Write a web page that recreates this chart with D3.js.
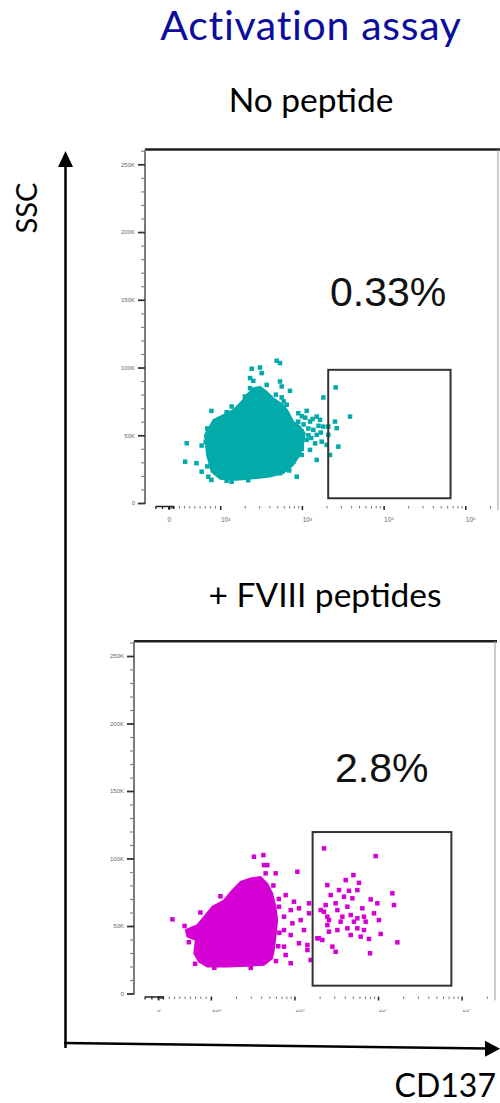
<!DOCTYPE html>
<html>
<head>
<meta charset="utf-8">
<script src="https://cdn.jsdelivr.net/npm/d3@7"></script>
<style>
  body { margin: 0; background: #fff; }
  svg { display: block; }
</style>
</head>
<body>
<div id="chart-area"></div>
<script>
/*
*    Activation assay - CD137 vs SSC dot plots
*/

// ---------- data: [CD137 intensity, SSC (K)] ----------
// outline of the dense part of each population
var noPepCloud = [[70,50.3],[87,61.4],[109,65.1],[145,68.8],[183,74.9],[211,79.9],[254,84.8],
  [307,86.0],[371,82.3],[447,77.4],[592,72.5],[682,67.5],[785,60.1],[948,56.4],[1091,51.5],
  [1040,42.9],[948,35.5],[785,28.1],[592,22.0],[407,19.4],[280,18.3],[159,17.0],[100,17.7],
  [83,23.1],[74,35.5]];
// single events around / outside the dense part
var noPepEvents = [[492,105.0],[540,103.3],[243,99.1],[307,100.0],[322,95.9],[232,92.2],[254,90.2],
  [540,89.7],[371,87.2],[566,86.0],[715,82.8],[232,84.8],[307,77.4],[201,78.6],[407,77.9],[566,77.9],
  [138,71.2],[83,68.0],[90,60.1],[652,72.5],[904,66.3],[1145,68.0],[1518,63.8],[1667,61.4],
  [1257,60.1],[1829,56.4],[1380,54.0],[995,52.7],[1518,50.3],[1145,46.6],[1747,45.3],[995,42.9],
  [1257,39.2],[995,35.5],[1518,31.8],[865,19.4],[652,25.7],[785,30.5],[35,44.1],[64,42.4],
  [32,30.5],[54,29.4],[64,23.1],[77,19.4],[83,17.0],[138,15.7],[407,22.0],[540,22.0],
  [1829,77.9],[2594,85.3],[3882,63.8],[2541,60.1],[2667,55.2],[2105,56.4],[2013,42.9],
  [2793,41.6],[2207,35.5],[2105,50.3],[1050,58],[1200,55],[1350,62],[1100,63],[1300,48],
  [1600,57],[1450,44],[1700,52],[1200,50],[900,60],[1000,64],[600,75],[480,80],[190,73],
  [120,67],[75,55],[72,45],[75,27],[120,16.5],[220,16.8],[700,24],[1000,40],[850,58]];
var noPepGate = [2100, 66000, 3.5, 98.3];   // x0, x1, y0, y1

var fviiiCloud = [[52,47.0],[74,50.7],[87,56.9],[104,64.3],[144,69.2],[181,76.6],[227,82.8],
  [299,85.3],[394,86.5],[474,81.6],[544,74.2],[596,64.3],[625,54.4],[596,42.1],[569,32.2],
  [544,26.1],[432,21.1],[273,20.4],[157,19.8],[93,19.8],[77,23.5],[68,29.8],[71,39.6],[55,42.1]];
var fviiiEvents = [[27,54.9],[328,101.3],[425,102.5],[432,95.1],[474,95.1],[596,89.0],[1084,90.2],
  [452,89.0],[2255,107.5],[9376,101.8],[785,72.9],[987,68.0],[653,64.3],[902,61.8],[1133,63.1],
  [1493,66.8],[1493,59.4],[750,56.9],[1189,54.4],[944,52.0],[750,47.0],[1300,47.0],[902,43.3],
  [1133,37.2],[1429,35.9],[750,34.7],[785,28.5],[902,22.4],[1563,24.8],[1429,32.2],[1879,40.9],
  [2158,39.6],[2061,61.8],[2477,80.3],[4105,84.0],[5076,87.7],[5919,82.0],[3413,76.6],[4496,76.1],
  [5660,76.6],[2716,72.9],[3917,71.7],[4937,70.5],[8170,69.7],[9822,66.8],[14860,74.2],
  [15520,65.5],[2363,65.5],[3112,66.8],[4302,64.3],[6496,63.1],[8954,59.4],[2255,60.6],
  [3265,61.8],[2477,56.9],[3747,56.9],[4713,58.1],[5660,55.7],[6793,56.9],[7117,53.2],
  [10260,54.4],[2588,54.4],[3573,53.2],[5152,53.2],[2477,50.7],[4302,48.3],[6793,47.0],
  [3265,47.0],[1968,40.9],[2588,45.8],[10770,44.1],[4713,43.3],[6199,42.1],[7798,40.4],
  [2844,34.7],[3112,30.9],[8017,29.8],[17050,37.9],[5660,48.3],[650,70],[560,80],[130,72],
  [80,60],[50,50],[58,38],[70,22],[110,19],[300,19],[600,24],[660,45],[640,35]];
var fviiiGate = [1650, 75500, 5.8, 119.6];

var sscTicks = [0, 50, 100, 150, 200, 250];
var sscLabels = ["0", "50K", "100K", "150K", "200K", "250K"];
var cdTicks = [0, 100, 1000, 10000, 100000];
var cdLabels = ["0", "10\u00B2", "10\u00B3", "10\u2074", "10\u2075"];

var svg = d3.select("#chart-area")
  .append("svg")
    .attr("width", 500)
    .attr("height", 1103);

// biexponential-like display transform: log above 100, linear below
function biex(v) {
  return v >= 100 ? Math.log10(v) : 2 + 0.63 * (v - 100) / 100;
}

// minor ticks for CD137 and SSC
var cdMinor = [];
[1, 10, 100, 1000, 10000].forEach(function(dec) {
  for (var k = 2; k <= 9; k++) cdMinor.push(k * dec);
});
cdMinor.push(200000);
var sscMinor = d3.range(10, 261, 10).filter(function(d) { return d % 50 !== 0; });

var defs = svg.append("defs");
var tickFont = "Liberation Sans, Arial, sans-serif";

function drawPanel(p) {
  var x = d3.scaleLinear().domain([1.08, 5.4]).range([p.left, p.right]);
  var y = d3.scaleLinear().domain([0, 250]).range([p.zero, p.zero - 250 * p.pxPerK]);
  var fx = function(v) { return x(biex(v)); };
  var top = y(261);

  var g = svg.append("g");

  // frame
  g.append("line")
    .attr("x1", p.left).attr("x2", p.frameRight)
    .attr("y1", top).attr("y2", top)
    .attr("stroke", "#1e1e1e").attr("stroke-width", 2.5);
  g.append("line")
    .attr("x1", p.right).attr("x2", p.right)
    .attr("y1", top).attr("y2", p.zero + 7)
    .attr("stroke", "#9a9a9a").attr("stroke-width", 1);

  // y axis
  g.append("line")
    .attr("x1", p.left).attr("x2", p.left)
    .attr("y1", top).attr("y2", p.zero + 1)
    .attr("stroke", "#7a7a7a").attr("stroke-width", 2);

  var yMinor = g.append("g")
    .attr("transform", "translate(" + p.left + ",0)")
    .call(d3.axisLeft(y).tickValues(sscMinor).tickSize(4).tickFormat(""));
  yMinor.select(".domain").remove();
  yMinor.selectAll("line").attr("stroke", "#888").attr("stroke-width", 1.2);

  var yMajor = g.append("g")
    .attr("transform", "translate(" + p.left + ",0)")
    .call(d3.axisLeft(y).tickValues(sscTicks).tickSize(7).tickFormat(""));
  yMajor.select(".domain").remove();
  yMajor.selectAll("line").attr("stroke", "#333").attr("stroke-width", 1.8);

  defs.append("clipPath").attr("id", "clipY" + p.id)
    .append("rect").attr("x", p.labelClip).attr("y", top - 20)
    .attr("width", 200).attr("height", 400);
  var yLab = g.append("g")
    .attr("clip-path", "url(#clipY" + p.id + ")")
    .append("g")
    .attr("transform", "translate(" + p.left + ",0)")
    .call(d3.axisLeft(y).tickValues(sscTicks).tickSize(0).tickPadding(10)
      .tickFormat(function(d, i) { return sscLabels[i]; }));
  yLab.select(".domain").remove();
  yLab.selectAll("text")
    .attr("font-family", tickFont)
    .attr("font-size", "6px")
    .attr("fill", "#666");

  // x axis (ticks only, no base line)
  var xa = p.zero + 3;
  var xMinor = g.append("g")
    .attr("transform", "translate(0," + xa + ")")
    .call(d3.axisBottom(x).tickValues(cdMinor.map(biex)).tickSize(2.5).tickFormat(""));
  xMinor.select(".domain").remove();
  xMinor.selectAll("line").attr("stroke", "#777").attr("stroke-width", 1);

  var xMajor = g.append("g")
    .attr("transform", "translate(0," + xa + ")")
    .call(d3.axisBottom(x).tickValues(cdTicks.map(biex)).tickSize(4).tickFormat(""));
  xMajor.select(".domain").remove();
  xMajor.selectAll("line").attr("stroke", "#222").attr("stroke-width", 1.5);

  defs.append("clipPath").attr("id", "clipX" + p.id)
    .append("rect").attr("x", 0).attr("y", p.xLabelClip)
    .attr("width", 500).attr("height", 200);
  var xLab = g.append("g")
    .attr("clip-path", "url(#clipX" + p.id + ")")
    .append("g")
    .attr("transform", "translate(0," + xa + ")")
    .call(d3.axisBottom(x).tickValues(cdTicks.map(biex)).tickSize(0).tickPadding(11)
      .tickFormat(function(d, i) { return cdLabels[i]; }));
  xLab.select(".domain").remove();
  xLab.selectAll("text")
    .attr("font-family", tickFont)
    .attr("font-size", "6.5px")
    .attr("fill", "#666")
    .attr("dx", function(d, i) { return i === 0 ? 0 : 5; });

  // dense marks around zero
  g.append("line")
    .attr("x1", fx(-25)).attr("x2", fx(10))
    .attr("y1", xa + 0.5).attr("y2", xa + 0.5)
    .attr("stroke", "#222").attr("stroke-width", 1.5);
  g.selectAll(".zt").data([-25, -12, 0, 10]).enter().append("line")
    .attr("x1", function(d) { return fx(d); }).attr("x2", function(d) { return fx(d); })
    .attr("y1", xa).attr("y2", xa + 3)
    .attr("stroke", "#222").attr("stroke-width", 1.3);

  // population
  var outline = d3.line()
    .x(function(d) { return fx(d[0]); })
    .y(function(d) { return y(d[1]); })
    .curve(d3.curveLinearClosed);
  g.append("path")
    .attr("d", outline(p.cloud))
    .attr("fill", p.color)
    .attr("stroke", p.color)
    .attr("stroke-width", 1.5);

  g.selectAll(".ev").data(p.events).enter().append("rect")
    .attr("x", function(d) { return fx(d[0]) - 2.25; })
    .attr("y", function(d) { return y(d[1]) - 2.25; })
    .attr("width", 4.5).attr("height", 4.5)
    .attr("fill", p.color);

  // gate
  g.append("rect")
    .attr("x", fx(p.gate[0]))
    .attr("y", y(p.gate[3]))
    .attr("width", fx(p.gate[1]) - fx(p.gate[0]))
    .attr("height", y(p.gate[2]) - y(p.gate[3]))
    .attr("fill", "none")
    .attr("stroke", "#333")
    .attr("stroke-width", 2);

  // percentage in gate
  g.append("text")
    .attr("x", p.pctX).attr("y", p.pctY)
    .attr("font-family", tickFont)
    .attr("font-size", "41px")
    .attr("fill", "#111")
    .text(p.pct);
}

drawPanel({ id: "a", left: 145, right: 498, frameRight: 500, zero: 503, pxPerK: 1.3548,
  cloud: noPepCloud, events: noPepEvents, gate: noPepGate, color: "#03aaaa",
  labelClip: 114, xLabelClip: 400, pct: "0.33%", pctX: 330, pctY: 306 });

drawPanel({ id: "b", left: 134, right: 495, frameRight: 497, zero: 993.5, pxPerK: 1.35,
  cloud: fviiiCloud, events: fviiiEvents, gate: fviiiGate, color: "#d400d4",
  labelClip: 108, xLabelClip: 1009.5, pct: "2.8%", pctX: 335, pctY: 782 });

// titles
var font = "Lato, 'Open Sans', sans-serif";
svg.append("text")
  .attr("x", 311).attr("y", 40)
  .attr("text-anchor", "middle")
  .attr("font-family", font).attr("font-size", "41px")
  .attr("letter-spacing", "0.7px")
  .attr("fill", "#0c0c9e")
  .text("Activation assay");
svg.append("text")
  .attr("x", 311).attr("y", 112)
  .attr("text-anchor", "middle")
  .attr("font-family", font).attr("font-size", "33.5px")
  .attr("fill", "#000")
  .text("No peptide");
svg.append("text")
  .attr("x", 325).attr("y", 607)
  .attr("text-anchor", "middle")
  .attr("font-family", font).attr("font-size", "33.5px")
  .attr("fill", "#000")
  .text("+ FVIII peptides");

// big axis arrows
svg.append("line")
  .attr("x1", 65.5).attr("x2", 65.5).attr("y1", 1048).attr("y2", 165)
  .attr("stroke", "#000").attr("stroke-width", 2.5);
svg.append("path")
  .attr("d", "M65.5,151 L58,167 L73,167 Z")
  .attr("fill", "#000");
svg.append("line")
  .attr("x1", 64).attr("x2", 487).attr("y1", 1043).attr("y2", 1048.5)
  .attr("stroke", "#000").attr("stroke-width", 2.5);
svg.append("path")
  .attr("d", "M500,1048.7 L485,1040.7 L485,1056.7 Z")
  .attr("fill", "#000");

svg.append("text")
  .attr("transform", "translate(37,208) rotate(-90)")
  .attr("text-anchor", "middle")
  .attr("font-family", font).attr("font-size", "29px")
  .attr("fill", "#000")
  .text("SSC");
svg.append("text")
  .attr("x", 496).attr("y", 1097)
  .attr("text-anchor", "end")
  .attr("font-family", font).attr("font-size", "32px")
  .attr("fill", "#000")
  .text("CD137");
</script>
</body>
</html>
